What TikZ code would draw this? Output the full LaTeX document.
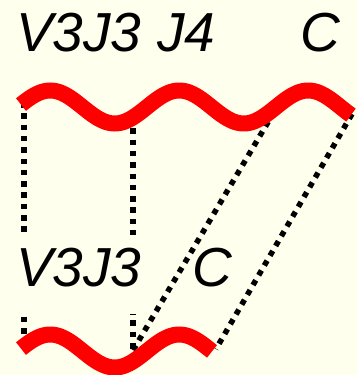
\documentclass[tikz,border=0pt]{standalone}
\usepackage{fontspec}
\setmainfont{Liberation Sans}
\definecolor{bg}{HTML}{FFFFEE}
\definecolor{wavered}{HTML}{FF0000}
\tikzset{
  wave/.style={draw=wavered, line width=16pt},
  link/.style={draw=black, line width=5.5pt, dash pattern=on 5.5pt off 5.8pt},
  lbl/.style={font=\fontsize{55}{66}\selectfont\itshape, inner sep=0pt, anchor=base west},
}
\begin{document}
\begin{tikzpicture}[x=1pt,y=-1pt]
\useasboundingbox (0,0) rectangle (358,375);
\fill[bg] (0,0) rectangle (358,375);
% anchor points on the two strands
\coordinate (t1) at (24,102);
\coordinate (t2) at (133,117);
\coordinate (t3) at (274,112);
\coordinate (t4) at (352,114);
\coordinate (b1) at (24,346);
\coordinate (b2) at (133,361);
\coordinate (b3) at (132,352);
\coordinate (b4) at (216,349);
% dotted correspondences
\draw[link] (t1) -- (b1);
\draw[link] (t2) -- (b2);
\draw[link] (t3) -- (b3);
\draw[link] (t4) -- (b4);
% labels
\node[lbl] (v3j3top) at (16,51) {V3J3};
\node[lbl] (j4top) at (157,51) {J4};
\node[lbl] (ctop) at (300,51) {C};
\node[lbl, fill=bg, text height=51pt, text depth=28pt, inner xsep=4pt] (v3j3bot) at (12,286) {V3J3};
\node[lbl] (cbot) at (192,286) {C};
% strands
\draw[wave] plot[domain=21:351, samples=160] (\x, {107 - 16.5*sin(2.7907*(\x-18))});
\draw[wave] plot[domain=21:212, samples=100] (\x, {351 - 16.5*sin(2.7907*(\x-18))});
\end{tikzpicture}
\end{document}
